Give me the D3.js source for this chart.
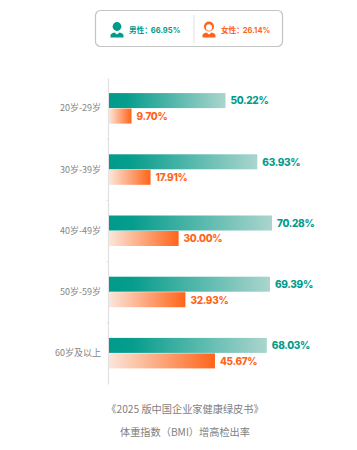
<!DOCTYPE html>
<html>
<head>
<meta charset="utf-8">
<script src="https://cdn.jsdelivr.net/npm/d3@7"></script>
<style>
  html, body { margin: 0; padding: 0; background: #fff; }
  svg { display: block; }
  text { font-family: "Noto Sans CJK SC", sans-serif; }
  .num { font-family: Inter, "Noto Sans", sans-serif; font-weight: 700; }
</style>
</head>
<body>
<div id="chart"></div>
<script>
const ageGroups = ["20岁-29岁", "30岁-39岁", "40岁-49岁", "50岁-59岁", "60岁及以上"];
const maleValues = [50.22, 63.93, 70.28, 69.39, 68.03];
const femaleValues = [9.70, 17.91, 30.00, 32.93, 45.67];
const seriesNames = ["male", "female"];
const legendLabels = ["男性：", "女性："];
const legendValues = ["66.95%", "26.14%"];
const footerLines = ["《2025 版中国企业家健康绿皮书》", "体重指数（BMI）增高检出率"];

const width = 357,
      height = 450,
      margin = ({ top: 78, right: 40, bottom: 66, left: 109 });

const teal = "#009B8B", orange = "#FF6419";

const svg = d3.select("#chart")
    .append("svg")
    .attr("width", width)
    .attr("height", height)
    .attr("viewBox", [0, 0, width, height]);

const defs = svg.append("defs");

function addGradient(id, from, to) {
    const g = defs.append("linearGradient").attr("id", id);
    from.concat(to).forEach(s => {
        g.append("stop").attr("offset", s[0]).attr("stop-color", s[1]);
    });
}
addGradient("gradMale", [["0%", "#009B8B"], ["15%", "#079D8D"]], [["100%", "#AAD5CD"]]);
addGradient("gradFemale", [["0%", "#FBE6DA"]], [["100%", "#FF6419"]]);

const y = d3.scaleBand()
    .domain(ageGroups)
    .range([margin.top, height - margin.bottom]);

const yInner = d3.scaleBand()
    .domain(seriesNames)
    .range([y.bandwidth() / 2 - 15.5, y.bandwidth() / 2 + 15.5]);

const x = d3.scaleLinear()
    .domain([0, 100])
    .range([margin.left, margin.left + 232]);

// axis
const yAxis = g => g
    .attr("transform", `translate(${margin.left - 1}, 0)`)
    .call(d3.axisLeft(y).tickSize(0).tickPadding(7))
    .call(g => g.select(".domain").attr("stroke", "#e2e2e2").attr("stroke-width", 1.2))
    .call(g => g.selectAll("text")
        .attr("fill", "#858585")
        .style("font-size", "9px")
        .style("font-family", '"Noto Sans CJK SC", sans-serif'));

svg.append("g").call(yAxis);

// small ticks between groups
svg.append("g")
    .selectAll("line")
    .data(ageGroups.slice(1))
    .join("line")
    .attr("x1", margin.left - 2.5)
    .attr("x2", margin.left - 1)
    .attr("y1", d => y(d))
    .attr("y2", d => y(d))
    .attr("stroke", "#e2e2e2");

const rows = ageGroups.map((d, i) => ({ age: d, male: maleValues[i], female: femaleValues[i] }));

const group = svg.selectAll(".group")
    .data(rows)
    .join("g")
    .attr("class", "group")
    .attr("transform", d => `translate(0, ${y(d.age)})`);

seriesNames.forEach(name => {
    const isMale = name === "male";
    group.append("rect")
        .attr("x", x(0))
        .attr("y", yInner(name))
        .attr("width", d => x(d[name]) - x(0))
        .attr("height", yInner.bandwidth() - 0.5)
        .attr("fill", isMale ? "url(#gradMale)" : "url(#gradFemale)");

    group.append("text")
        .attr("class", "num")
        .text(d => d[name].toFixed(2) + "%")
        .attr("x", d => x(d[name]) + 5)
        .attr("y", yInner(name) + yInner.bandwidth() / 2)
        .attr("dy", "0.36em")
        .attr("fill", isMale ? teal : orange)
        .style("font-size", "10px")
        .style("font-weight", 800)
        .style("letter-spacing", "-0.3px");
});

// legend box
const legend = svg.append("g");
legend.append("rect")
    .attr("x", 95.5).attr("y", 10.5)
    .attr("width", 187).attr("height", 36)
    .attr("rx", 5)
    .attr("fill", "#fff")
    .attr("stroke", "#c4c4c4")
    .attr("stroke-width", 1.2);
legend.append("line")
    .attr("x1", 194).attr("x2", 194)
    .attr("y1", 15).attr("y2", 43)
    .attr("stroke", "#e0e0e0");

function person(g, cx, color, female) {
    const p = g.append("g").attr("transform", `translate(${cx}, 0)`).attr("fill", color);
    p.append("circle").attr("cx", 0).attr("cy", 26.5).attr("r", female ? 5 : 4.4);
    if (female) {
        p.append("ellipse").attr("cx", 0).attr("cy", 27.5).attr("rx", 3).attr("ry", 3.2).attr("fill", "#fff");
    } else {
        p.append("ellipse").attr("cx", 0).attr("cy", 27.6).attr("rx", 2.8).attr("ry", 2.8).attr("fill", color).attr("opacity", 0.75);
    }
    p.append("path").attr("d", "M-6.5,37.5 V35.5 Q-6.5,33.5 -2.5,32.5 L0,34.5 L2.5,32.5 Q6.5,33.5 6.5,35.5 V37.5 Z");
}
person(legend, 117, teal, false);
person(legend, 209, orange, true);

[0, 1].forEach(i => {
    const t = legend.append("text")
        .attr("x", i === 0 ? 129 : 221)
        .attr("y", 33)
        .attr("fill", i === 0 ? teal : orange)
        .style("font-size", "7.6px")
        .style("font-weight", 700);
    t.append("tspan").text(legendLabels[i]);
    t.append("tspan").attr("class", "num").attr("dx", -1).text(legendValues[i]);
});

// footer
svg.append("g")
    .selectAll("text")
    .data(footerLines)
    .join("text")
    .text(d => d)
    .attr("x", 185)
    .attr("y", (d, i) => 413 + i * 23)
    .attr("text-anchor", "middle")
    .attr("fill", "#7f7f7f")
    .style("font-size", "10.2px");
</script>
</body>
</html>
